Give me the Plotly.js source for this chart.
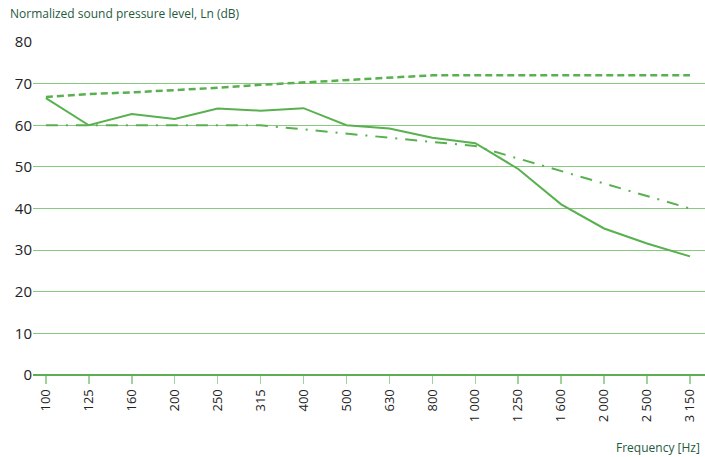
<!DOCTYPE html>
<html><head><meta charset="utf-8">
<script src="https://cdn.plot.ly/plotly-3.0.1.min.js"></script>
<style>body{margin:0;padding:0;background:#fff}#chart{width:705px;height:457px}</style>
</head><body><div id="chart"></div>
<script>
const frequencies = ["100","125","160","200","250","315","400","500","630","800","1000","1250","1600","2000","2500","3150"];
const tickLabels = ["100","125","160","200","250","315","400","500","630","800","1 000","1 250","1 600","2 000","2 500","3 150"];
const measured = [66.5,60,62.7,61.5,64,63.5,64.1,60,59.2,57,55.7,49.5,41,35.2,31.6,28.5];
const upperRef = [66.8,67.5,67.9,68.4,69,69.7,70.3,70.9,71.5,72,72,72,72,72,72,72];
const lowerRef = [60,60,60,60,60,60,59,58,57,56,55,52,49,46,43,40];
const yTicks = [0,10,20,30,40,50,60,70,80];

const green = '#58b04f';
const traces = [
  {x: frequencies, y: measured, mode: 'lines', line: {color: green, width: 2}, hoverinfo: 'skip'},
  {x: frequencies, y: upperRef, mode: 'lines', line: {color: green, width: 2.5, dash: '7px,4px'}, hoverinfo: 'skip'},
  {x: frequencies, y: lowerRef, mode: 'lines', line: {color: green, width: 2, dash: '12px,8px,2px,8px'}, hoverinfo: 'skip'}
];
const plotW = 705 - 33, plotH = 457 - 42 - 82;
const layout = {
  width: 705, height: 457,
  margin: {l: 33, r: 0, t: 42, b: 82},
  showlegend: false,
  paper_bgcolor: '#fff', plot_bgcolor: '#fff',
  font: {family: 'Open Sans, sans-serif', color: '#222'},
  xaxis: {
    type: 'category', range: [-0.3, 15.35],
    tickmode: 'array', tickvals: frequencies, ticktext: tickLabels,
    tickangle: -90, ticks: 'outside', ticklen: 8, tickcolor: '#9ed49a', tickwidth: 1.5,
    showgrid: false, zeroline: false, showline: false,
    tickfont: {size: 13, color: '#222'},
    fixedrange: true
  },
  yaxis: {
    range: [0, 80], tickmode: 'array', tickvals: yTicks,
    gridcolor: '#86c97f', gridwidth: 1.2, zeroline: true, zerolinecolor: '#5cae55', zerolinewidth: 1.5,
    showline: false, ticks: '', ticklen: 0,
    tickfont: {size: 15, color: '#222'},
    fixedrange: true
  },
  annotations: [
    {text: 'Normalized sound pressure level, Ln (dB)', xref: 'paper', yref: 'paper',
     x: -25 / plotW, y: 1 + (42 - 14) / plotH, xanchor: 'left', yanchor: 'middle',
     showarrow: false, font: {size: 12, color: '#1f5a3e'}},
    {text: 'Frequency [Hz]', xref: 'paper', yref: 'paper',
     x: 1 - 3 / plotW, y: -(447 - 375) / plotH, xanchor: 'right', yanchor: 'middle',
     showarrow: false, font: {size: 12, color: '#1f5a3e'}}
  ]
};
Plotly.newPlot('chart', traces, layout, {displayModeBar: false, staticPlot: true});
</script></body></html>
